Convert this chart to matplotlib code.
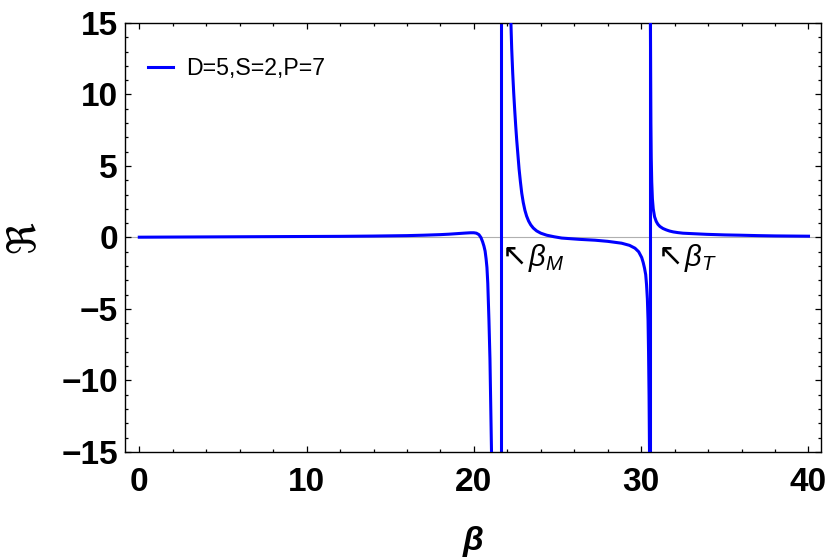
import numpy as np
import matplotlib
matplotlib.use('Agg')
import matplotlib.pyplot as plt
from matplotlib.ticker import MultipleLocator

# curve, split at the two poles
beta_a = [0, 2, 4, 6, 8, 10, 12, 14, 16, 17, 18, 18.5, 19, 19.5, 19.8, 20.0, 20.15,
          20.3, 20.42, 20.52, 20.6, 20.67, 20.73, 20.78, 20.83, 20.9, 20.96, 21.01, 21.06]
r_a = [0.02, 0.03, 0.04, 0.05, 0.06, 0.07, 0.08, 0.1, 0.13, 0.16, 0.2, 0.23, 0.27, 0.31, 0.33,
       0.33, 0.3, 0.2, 0.0, -0.3, -0.6, -0.95, -1.5, -2.1, -3.2, -5.8, -8.5, -12, -15.5]

beta_b = [22.2, 22.26, 22.32, 22.38, 22.44, 22.5, 22.56, 22.63, 22.7, 22.78, 22.86, 22.95,
          23.05, 23.15, 23.27, 23.4, 23.55, 23.75, 24.0, 24.35, 24.8, 25.25, 26.3, 27.24,
          28.0, 28.83, 29.3, 29.63, 29.85, 30.03, 30.12, 30.2, 30.27, 30.32, 30.37, 30.41,
          30.44, 30.47, 30.5]
r_b = [15.5, 13.2, 11.5, 10.1, 8.9, 7.8, 6.8, 5.8, 4.8, 3.9, 3.1, 2.45,
       1.9, 1.5, 1.15, 0.88, 0.66, 0.46, 0.3, 0.16, 0.05, -0.04, -0.13, -0.19,
       -0.27, -0.4, -0.55, -0.75, -1.0, -1.4, -1.75, -2.15, -2.6, -3.3, -4.3, -5.8,
       -8.0, -11.0, -15.5]

beta_c = [30.55, 30.565, 30.58, 30.6, 30.63, 30.67, 30.72, 30.8, 30.9, 31.0, 31.12, 31.3,
          31.5, 31.7, 31.92, 32.2, 32.5, 33.2, 33.92, 35.0, 35.9, 37.0, 38.0, 39.0, 40.0]
r_c = [15.5, 11.5, 8.0, 5.6, 3.9, 2.7, 2.0, 1.45, 1.12, 0.92, 0.77, 0.63,
       0.53, 0.45, 0.39, 0.34, 0.3, 0.26, 0.22, 0.18, 0.16, 0.13, 0.11, 0.1, 0.09]

beta_marks = [21.6, 30.52]
mark_names = [r'$\beta_M$', r'$\beta_T$']
name_x = [23.25, 32.55]

plt.rcParams['font.family'] = ['Liberation Sans', 'DejaVu Sans']
plt.rcParams['mathtext.fontset'] = 'custom'
plt.rcParams['mathtext.it'] = 'Liberation Sans:italic'
plt.rcParams['mathtext.rm'] = 'Liberation Sans'

blue = (0, 0, 1)
fig = plt.figure(figsize=(8.3, 5.58), dpi=100)
ax = fig.add_axes([0.1506, 0.19, 0.8386, 0.7688])

ax.axhline(0, color='#b0b0b0', lw=0.8, zorder=1)
ax.vlines(beta_marks, -15, 15, color=blue, lw=2.2, zorder=2)
ax.plot(beta_a, r_a, color=blue, lw=2.2, label='D=5,S=2,P=7', zorder=3)
ax.plot(beta_b, r_b, color=blue, lw=2.2, zorder=3)
ax.plot(beta_c, r_c, color=blue, lw=2.2, zorder=3)

for nx, name in zip(name_x, mark_names):
    ax.text(nx - 0.05, -1.3, '\u2196', family='DejaVu Sans', fontsize=22, va='center', ha='right')
    ax.text(nx, -2.0, name, fontsize=21, va='baseline', ha='left')

ax.set_xlim(-0.855, 40.75)
ax.set_ylim(-15, 15)
ax.xaxis.set_major_locator(MultipleLocator(10))
ax.xaxis.set_minor_locator(MultipleLocator(2))
ax.yaxis.set_major_locator(MultipleLocator(5))
ax.yaxis.set_minor_locator(MultipleLocator(1))
ax.tick_params(which='both', direction='in', top=True, right=True, width=0.9)
ax.tick_params(which='major', length=4.5)
ax.tick_params(which='minor', length=2.5)
ax.tick_params(axis='x', pad=11)
ax.tick_params(axis='y', pad=5)
for lab in ax.get_xticklabels() + ax.get_yticklabels():
    lab.set_fontsize(24)
    lab.set_fontweight('bold')
for sp in ax.spines.values():
    sp.set_linewidth(1.0)

ax.set_xlabel('\u03b2', fontsize=24, fontweight='bold', fontstyle='italic')
ax.xaxis.set_label_coords(0.5, -0.172)
ax.set_ylabel('\u211c', family='DejaVu Sans', fontsize=28, va='center')
ax.yaxis.set_label_coords(-0.147, 0.5)

ax.legend(loc='upper left', bbox_to_anchor=(0.033, 0.92), frameon=False, fontsize=16.7,
          handlelength=1.1, handletextpad=0.55, borderaxespad=0, borderpad=0)

fig.savefig('out.png', dpi=100)
